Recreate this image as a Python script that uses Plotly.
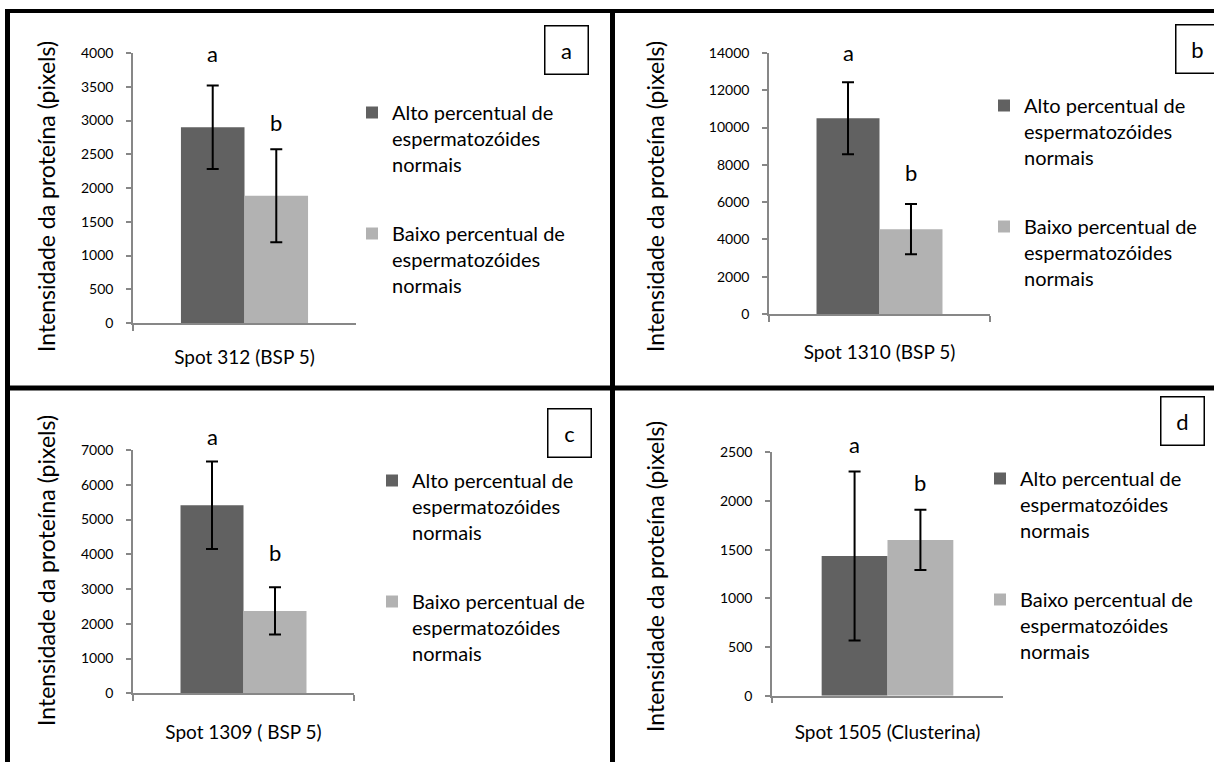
import plotly.graph_objects as go

# ---------------- data ----------------
categories = ["Spot 312 (BSP 5)", "Spot 1310 (BSP 5)", "Spot 1309 ( BSP 5)", "Spot 1505 (Clusterina)"]
alto_mean = [2900, 10500, 5410, 1435]
alto_err = [620, 1930, 1260, 868]
baixo_mean = [1885, 4550, 2370, 1600]
baixo_err = [688, 1350, 680, 310]
y_max = [4000, 14000, 7000, 2500]
y_dtick = [500, 2000, 1000, 500]
letters_alto = ["a", "a", "a", "a"]
letters_baixo = ["b", "b", "b", "b"]
panel_labels = ["a", "b", "c", "d"]
series_names = ["Alto percentual de<br>espermatozóides<br>normais",
                "Baixo percentual de<br>espermatozóides<br>normais"]
y_title = "Intensidade da proteína (pixels)"

# ---------------- layout helpers ----------------
W, H = 1214, 762
FONT = "Lato"
DARK = "#616161"
LIGHT = "#b2b2b2"
AXIS = "#878787"


def fx(px):
    return px / W


def fy(py):
    return 1 - py / H


# plot areas in pixels: (x0, x1, y_top, y_bottom)
plot_px = [(133, 356, 53, 323), (769, 990, 53, 314), (133, 354, 450, 693.3), (772, 1003, 452.3, 695.7)]
ytitle_px = [(46, 197), (655, 197), (46, 571), (655, 577)]
legend_px = [(352, 93), (984, 86), (372, 461), (980, 459)]
box_px = [(566, 49.5), (1197, 49), (569, 433), (1182, 420.5)]
cat_standoff = [16, 20, 21, 19]
# pixel gap between error-bar top and the centre of each significance letter
letter_gap_alto = [32, 30, 25, 27]
letter_gap_baixo = [27, 32, 35, 27]

fig = go.Figure()
layout = dict(
    width=W, height=H,
    margin=dict(l=0, r=0, t=0, b=0, autoexpand=False),
    paper_bgcolor="white", plot_bgcolor="white",
    barmode="group", bargap=0.43, bargroupgap=0,
    font=dict(family=FONT, color="black"),
    showlegend=True,
    annotations=[], shapes=[],
)

bw = (1 - 0.43) / 2
for i in range(4):
    sfx = "" if i == 0 else str(i + 1)
    xa, ya = "x" + sfx, "y" + sfx
    leg = "legend" + sfx
    x0, x1, yt, yb = plot_px[i]
    for name, mean, err, col, k in [(series_names[0], alto_mean, alto_err, DARK, 0),
                                     (series_names[1], baixo_mean, baixo_err, LIGHT, 1)]:
        fig.add_trace(go.Bar(
            x=[categories[i]], y=[mean[i]], name=name,
            marker=dict(color=col, line=dict(width=0)),
            error_y=dict(type="data", array=[err[i]], symmetric=True,
                         color="black", thickness=2, width=6),
            xaxis=xa, yaxis=ya, legend=leg, legendgroup=f"g{i}{k}",
        ))
    layout["xaxis" + sfx] = dict(
        domain=[fx(x0), fx(x1)], anchor=ya, type="category", automargin=False,
        range=[-0.5, 0.5], showline=True, linecolor=AXIS, linewidth=1.5,
        ticks="outside", tickson="boundaries", ticklen=6, tickcolor=AXIS, tickwidth=1.5,
        tickfont=dict(size=19, family=FONT, color="black"), ticklabelstandoff=cat_standoff[i],
        showgrid=False, zeroline=False, fixedrange=True,
    )
    layout["yaxis" + sfx] = dict(
        domain=[fy(yb), fy(yt)], anchor=xa, range=[0, y_max[i]], dtick=y_dtick[i],
        automargin=False,
        tickformat="d", showline=True, linecolor=AXIS, linewidth=1.5,
        ticks="outside", ticklen=5, tickcolor=AXIS, tickwidth=1.5,
        tickfont=dict(size=14, family=FONT, color="black"), ticklabelstandoff=10,
        showgrid=False, zeroline=False, fixedrange=True,
    )
    lx, ly = legend_px[i]
    layout[leg] = dict(
        x=fx(lx), y=fy(ly), xanchor="left", yanchor="top",
        bgcolor="rgba(0,0,0,0)", borderwidth=0,
        font=dict(size=20, family=FONT, color="black"),
        valign="top", traceorder="grouped", tracegroupgap=40,
    )
    # significance letters, placed above the error-bar tops
    layout["annotations"].append(dict(
        x=-bw / 2, y=alto_mean[i] + alto_err[i], xref=xa, yref=ya, text=letters_alto[i],
        showarrow=False, font=dict(size=22, family=FONT), yanchor="middle",
        yshift=letter_gap_alto[i]))
    layout["annotations"].append(dict(
        x=bw / 2, y=baixo_mean[i] + baixo_err[i], xref=xa, yref=ya, text=letters_baixo[i],
        showarrow=False, font=dict(size=22, family=FONT), yanchor="middle",
        yshift=letter_gap_baixo[i]))
    # y title
    tx, ty = ytitle_px[i]
    layout["annotations"].append(dict(
        x=fx(tx), y=fy(ty), xref="paper", yref="paper", text=y_title, textangle=-90,
        showarrow=False, font=dict(size=23, family=FONT), xanchor="center", yanchor="middle"))
    # panel label box
    bx, by = box_px[i]
    layout["annotations"].append(dict(
        x=fx(bx), y=fy(by), xref="paper", yref="paper", text=panel_labels[i],
        showarrow=False, font=dict(size=22, family=FONT), width=42, height=47,
        bordercolor="black", borderwidth=1.5, borderpad=0, bgcolor="white",
        xanchor="center", yanchor="middle"))

# frame lines
frame = [
    (5, 11, 1214, 11, 4),      # top
    (7.5, 9, 7.5, 762, 5),     # left
    (612.5, 9, 612.5, 762, 5), # middle vertical
    (5, 388, 1214, 388, 5),    # middle horizontal
]
for xa0, ya0, xa1, ya1, w in frame:
    layout["shapes"].append(dict(type="line", xref="paper", yref="paper",
                                 x0=fx(xa0), y0=fy(ya0), x1=fx(xa1), y1=fy(ya1),
                                 line=dict(color="black", width=w)))

fig.update_layout(**layout)
fig.write_html("out.html", config={"displayModeBar": False},
               post_script="document.body.style.margin='0';document.body.style.overflow='hidden';")
